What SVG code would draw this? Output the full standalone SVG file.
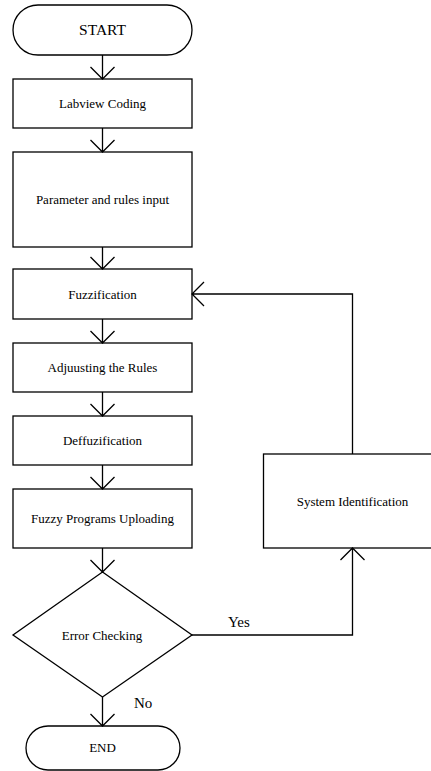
<svg xmlns="http://www.w3.org/2000/svg" width="431" height="771" viewBox="0 0 431 771">
<style>
.s{fill:#fff;stroke:#000;stroke-width:1.3}
.t{font-family:"Liberation Serif","Times New Roman",serif;font-size:13px;fill:#000;text-anchor:middle}
.l{font-family:"Liberation Serif","Times New Roman",serif;font-size:15px;fill:#000}
.c{fill:none;stroke:#000;stroke-width:1.3}
</style>
<rect width="431" height="771" fill="#fff"/>
<g id="start"><rect class="s" x="13" y="5" width="179" height="50" rx="25"/><text class="t" x="102.5" y="35" style="font-size:15.5px">START</text></g>
<g id="labview"><rect class="s" x="13" y="79" width="179" height="49"/><text class="t" x="102.5" y="108">Labview Coding</text></g>
<g id="param"><rect class="s" x="13" y="152" width="179" height="95"/><text class="t" x="102.5" y="204">Parameter and rules input</text></g>
<g id="fuzz"><rect class="s" x="13" y="269" width="179" height="50"/><text class="t" x="102.5" y="298.5">Fuzzification</text></g>
<g id="adjust"><rect class="s" x="13" y="343" width="179" height="49"/><text class="t" x="102.5" y="372">Adjuusting the Rules</text></g>
<g id="deff"><rect class="s" x="13" y="416" width="179" height="49"/><text class="t" x="102.5" y="445">Deffuzification</text></g>
<g id="upload"><rect class="s" x="13" y="489" width="179" height="59"/><text class="t" x="102.5" y="523">Fuzzy Programs Uploading</text></g>
<g id="sysid"><rect class="s" x="263.5" y="454" width="180" height="94"/><text class="t" x="352.5" y="506">System Identification</text></g>
<g id="error"><polygon class="s" points="102.5,572 192,635 102.5,697 13,635"/><text class="t" x="102" y="640">Error Checking</text></g>
<g id="end"><rect class="s" x="26" y="726" width="154" height="44" rx="22"/><text class="t" x="102.5" y="752">END</text></g>
<g id="connectors">
<path class="c" d="M102.5 55V79M90.5 67L102.5 79L114.5 67"/>
<path class="c" d="M102.5 128V152M90.5 140L102.5 152L114.5 140"/>
<path class="c" d="M102.5 247V269M90.5 257L102.5 269L114.5 257"/>
<path class="c" d="M102.5 319V343M90.5 331L102.5 343L114.5 331"/>
<path class="c" d="M102.5 392V416M90.5 404L102.5 416L114.5 404"/>
<path class="c" d="M102.5 465V489M90.5 477L102.5 489L114.5 477"/>
<path class="c" d="M102.5 548V572M90.5 560L102.5 572L114.5 560"/>
<path class="c" d="M102.5 697V726M90.5 714L102.5 726L114.5 714"/>
<path class="c" d="M192 635H352.5V548M340.5 560L352.5 548L364.5 560"/>
<path class="c" d="M352.5 454V294H192M204 282L192 294L204 306"/>
<text class="l" x="228" y="627">Yes</text>
<text class="l" x="134" y="708">No</text>
</g>
</svg>
